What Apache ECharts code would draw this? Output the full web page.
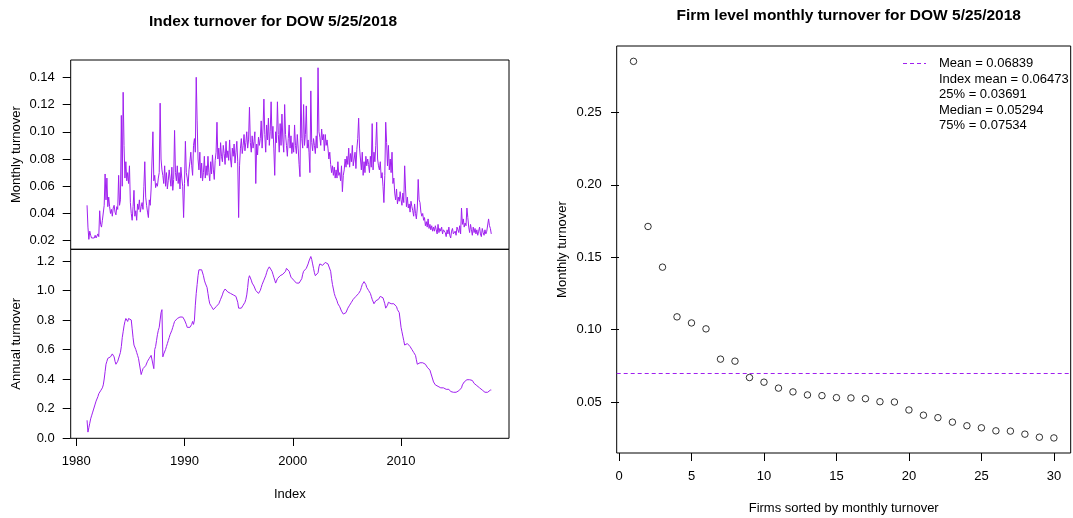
<!DOCTYPE html>
<html>
<head>
<meta charset="utf-8">
<script src="https://cdn.jsdelivr.net/npm/echarts@6/dist/echarts.min.js"></script>
<style>
  html, body { margin: 0; padding: 0; background: #fff; }
  #chart { width: 1073px; height: 518px; }
</style>
</head>
<body>
<div id="chart"></div>
<script>
// Index turnover, one value per month starting January 1981 (through May 2018)
const startYear = 1981;
const monthlyTurnover = [
  0.046, 0.030, 0.021, 0.027, 0.024, 0.022, 0.023, 0.021, 0.022, 0.024, 0.022, 0.023, // 1981
  0.025, 0.023, 0.042, 0.032, 0.030, 0.035, 0.034, 0.046, 0.069, 0.050, 0.066, 0.045, // 1982
  0.052, 0.045, 0.040, 0.043, 0.038, 0.044, 0.046, 0.041, 0.039, 0.045, 0.043, 0.068, // 1983
  0.046, 0.050, 0.112, 0.060, 0.129, 0.090, 0.066, 0.078, 0.064, 0.070, 0.062, 0.075, // 1984
  0.048, 0.040, 0.035, 0.045, 0.057, 0.038, 0.042, 0.035, 0.047, 0.043, 0.050, 0.041, // 1985
  0.045, 0.048, 0.043, 0.060, 0.078, 0.052, 0.046, 0.041, 0.037, 0.050, 0.046, 0.058, // 1986
  0.058, 0.100, 0.064, 0.068, 0.059, 0.062, 0.060, 0.066, 0.070, 0.121, 0.080, 0.072, // 1987
  0.068, 0.062, 0.075, 0.060, 0.070, 0.058, 0.064, 0.072, 0.066, 0.060, 0.074, 0.057, // 1988
  0.065, 0.101, 0.070, 0.064, 0.075, 0.062, 0.070, 0.058, 0.074, 0.066, 0.060, 0.037, // 1989
  0.062, 0.093, 0.070, 0.066, 0.060, 0.072, 0.078, 0.085, 0.075, 0.068, 0.090, 0.095, // 1990
  0.085, 0.140, 0.108, 0.080, 0.072, 0.085, 0.066, 0.077, 0.064, 0.070, 0.082, 0.066, // 1991
  0.075, 0.068, 0.082, 0.070, 0.064, 0.078, 0.069, 0.083, 0.072, 0.065, 0.079, 0.085, // 1992
  0.107, 0.080, 0.088, 0.075, 0.092, 0.082, 0.078, 0.090, 0.084, 0.076, 0.093, 0.081, // 1993
  0.086, 0.079, 0.094, 0.080, 0.074, 0.088, 0.082, 0.091, 0.077, 0.085, 0.093, 0.078, // 1994
  0.037, 0.075, 0.088, 0.095, 0.084, 0.090, 0.098, 0.086, 0.092, 0.100, 0.088, 0.094, // 1995
  0.118, 0.092, 0.085, 0.097, 0.088, 0.093, 0.100, 0.062, 0.091, 0.083, 0.096, 0.090, // 1996
  0.095, 0.108, 0.088, 0.102, 0.124, 0.098, 0.085, 0.105, 0.094, 0.110, 0.090, 0.100, // 1997
  0.122, 0.095, 0.104, 0.088, 0.068, 0.100, 0.092, 0.122, 0.098, 0.085, 0.106, 0.090, // 1998
  0.113, 0.094, 0.085, 0.120, 0.098, 0.090, 0.082, 0.095, 0.105, 0.088, 0.097, 0.084, // 1999
  0.092, 0.085, 0.105, 0.090, 0.084, 0.098, 0.088, 0.076, 0.067, 0.140, 0.095, 0.088, // 2000
  0.120, 0.090, 0.098, 0.119, 0.088, 0.094, 0.085, 0.070, 0.130, 0.092, 0.086, 0.095, // 2001
  0.090, 0.084, 0.097, 0.088, 0.147, 0.100, 0.096, 0.090, 0.102, 0.094, 0.098, 0.086, // 2002
  0.098, 0.090, 0.094, 0.088, 0.080, 0.085, 0.076, 0.070, 0.075, 0.068, 0.074, 0.066, // 2003
  0.072, 0.066, 0.078, 0.068, 0.070, 0.064, 0.075, 0.056, 0.068, 0.072, 0.080, 0.074, // 2004
  0.082, 0.076, 0.088, 0.074, 0.084, 0.078, 0.090, 0.075, 0.080, 0.085, 0.073, 0.087, // 2005
  0.095, 0.110, 0.088, 0.080, 0.072, 0.085, 0.068, 0.078, 0.070, 0.082, 0.075, 0.080, // 2006
  0.076, 0.070, 0.082, 0.074, 0.106, 0.072, 0.085, 0.078, 0.090, 0.107, 0.080, 0.075, // 2007
  0.072, 0.078, 0.066, 0.070, 0.060, 0.048, 0.068, 0.107, 0.092, 0.075, 0.090, 0.072, // 2008
  0.080, 0.070, 0.085, 0.062, 0.066, 0.055, 0.050, 0.058, 0.047, 0.052, 0.049, 0.056, // 2009
  0.050, 0.046, 0.055, 0.048, 0.075, 0.058, 0.045, 0.052, 0.044, 0.047, 0.041, 0.049, // 2010
  0.045, 0.042, 0.038, 0.047, 0.040, 0.036, 0.044, 0.065, 0.050, 0.048, 0.041, 0.038, // 2011
  0.040, 0.035, 0.037, 0.031, 0.034, 0.030, 0.036, 0.029, 0.032, 0.028, 0.031, 0.027, // 2012
  0.030, 0.027, 0.031, 0.028, 0.025, 0.032, 0.026, 0.029, 0.027, 0.030, 0.025, 0.028, // 2013
  0.029, 0.026, 0.023, 0.028, 0.025, 0.030, 0.024, 0.022, 0.027, 0.029, 0.025, 0.026, // 2014
  0.027, 0.024, 0.030, 0.028, 0.026, 0.031, 0.025, 0.044, 0.032, 0.036, 0.030, 0.033, // 2015
  0.031, 0.044, 0.037, 0.030, 0.026, 0.032, 0.028, 0.024, 0.030, 0.026, 0.029, 0.025, // 2016
  0.028, 0.024, 0.027, 0.030, 0.025, 0.023, 0.029, 0.026, 0.024, 0.028, 0.025, 0.027, // 2017
  0.026, 0.036, 0.031, 0.029, 0.025                                                   // 2018
];

// Trailing annual turnover, same monthly dates
const annualTurnover = [
  0.12, 0.04, 0.07, 0.10, 0.13, 0.15, 0.17, 0.19, 0.21, 0.23, 0.25, 0.26, // 1981
  0.28, 0.30, 0.31, 0.32, 0.33, 0.34, 0.36, 0.40, 0.45, 0.50, 0.52, 0.54, // 1982
  0.54, 0.55, 0.55, 0.56, 0.57, 0.56, 0.55, 0.52, 0.50, 0.50, 0.52, 0.52, // 1983
  0.53, 0.58, 0.62, 0.68, 0.72, 0.76, 0.79, 0.81, 0.80, 0.79, 0.81, 0.81, // 1984
  0.81, 0.80, 0.74, 0.68, 0.63, 0.62, 0.60, 0.58, 0.56, 0.54, 0.55, 0.55, // 1985
  0.43, 0.45, 0.47, 0.48, 0.48, 0.49, 0.50, 0.52, 0.53, 0.54, 0.55, 0.56, // 1986
  0.57, 0.56, 0.47, 0.60, 0.62, 0.66, 0.70, 0.73, 0.75, 0.80, 0.85, 0.87, // 1987
  0.55, 0.57, 0.58, 0.60, 0.62, 0.64, 0.66, 0.68, 0.70, 0.71, 0.73, 0.75, // 1988
  0.77, 0.79, 0.80, 0.80, 0.81, 0.80, 0.81, 0.82, 0.81, 0.82, 0.82, 0.82, // 1989
  0.80, 0.79, 0.77, 0.75, 0.74, 0.74, 0.75, 0.76, 0.77, 0.79, 0.77, 0.80, // 1990
  0.90, 0.98, 1.04, 1.10, 1.14, 1.14, 1.13, 1.14, 1.13, 1.10, 1.07, 1.05, // 1991
  1.05, 1.02, 0.98, 0.94, 0.91, 0.90, 0.89, 0.88, 0.87, 0.87, 0.88, 0.89, // 1992
  0.89, 0.90, 0.91, 0.92, 0.94, 0.95, 0.97, 0.99, 1.00, 1.01, 1.01, 1.00, // 1993
  0.99, 0.99, 0.98, 0.98, 0.98, 0.97, 0.97, 0.96, 0.96, 0.96, 0.95, 0.92, // 1994
  0.88, 0.87, 0.87, 0.88, 0.89, 0.90, 0.91, 0.92, 0.94, 0.97, 1.02, 1.08, // 1995
  1.10, 1.09, 1.07, 1.05, 1.04, 1.03, 1.02, 1.00, 0.99, 0.99, 0.98, 0.985, // 1996
  1.00, 1.02, 1.04, 1.05, 1.07, 1.08, 1.10, 1.12, 1.14, 1.15, 1.16, 1.16, // 1997
  1.15, 1.13, 1.11, 1.09, 1.07, 1.05, 1.06, 1.08, 1.09, 1.09, 1.10, 1.10, // 1998
  1.10, 1.11, 1.11, 1.12, 1.13, 1.15, 1.15, 1.14, 1.13, 1.11, 1.09, 1.08, // 1999
  1.08, 1.07, 1.07, 1.06, 1.05, 1.05, 1.06, 1.05, 1.04, 1.06, 1.08, 1.11, // 2000
  1.13, 1.14, 1.14, 1.15, 1.16, 1.18, 1.20, 1.21, 1.23, 1.21, 1.18, 1.15, // 2001
  1.12, 1.10, 1.09, 1.09, 1.12, 1.16, 1.18, 1.19, 1.18, 1.17, 1.18, 1.18, // 2002
  1.19, 1.18, 1.18, 1.18, 1.17, 1.18, 1.13, 1.08, 1.04, 1.01, 0.98, 0.96, // 2003
  0.95, 0.93, 0.91, 0.90, 0.89, 0.88, 0.86, 0.85, 0.84, 0.83, 0.84, 0.85, // 2004
  0.86, 0.88, 0.89, 0.90, 0.91, 0.92, 0.93, 0.94, 0.94, 0.95, 0.96, 0.97, // 2005
  0.97, 0.98, 0.99, 1.00, 1.02, 1.04, 1.05, 1.06, 1.05, 1.04, 1.02, 1.01, // 2006
  1.00, 1.00, 0.98, 0.96, 0.94, 0.93, 0.91, 0.92, 0.93, 0.94, 0.93, 0.94, // 2007
  0.95, 0.96, 0.97, 0.96, 0.95, 0.93, 0.91, 0.88, 0.89, 0.90, 0.92, 0.91, // 2008
  0.92, 0.91, 0.92, 0.90, 0.91, 0.91, 0.90, 0.89, 0.87, 0.86, 0.85, 0.80, // 2009
  0.75, 0.72, 0.69, 0.66, 0.63, 0.62, 0.63, 0.64, 0.64, 0.63, 0.62, 0.61, // 2010
  0.60, 0.59, 0.58, 0.57, 0.56, 0.53, 0.50, 0.49, 0.50, 0.51, 0.52, 0.52, // 2011
  0.51, 0.51, 0.50, 0.50, 0.49, 0.48, 0.47, 0.47, 0.46, 0.44, 0.42, 0.40, // 2012
  0.38, 0.37, 0.36, 0.36, 0.355, 0.35, 0.35, 0.345, 0.34, 0.34, 0.34, 0.34, // 2013
  0.335, 0.335, 0.33, 0.33, 0.335, 0.33, 0.32, 0.315, 0.31, 0.31, 0.31, 0.31, // 2014
  0.31, 0.31, 0.31, 0.315, 0.32, 0.325, 0.33, 0.34, 0.36, 0.37, 0.38, 0.385, // 2015
  0.39, 0.395, 0.40, 0.40, 0.395, 0.40, 0.40, 0.39, 0.38, 0.37, 0.365, 0.36, // 2016
  0.355, 0.35, 0.345, 0.34, 0.335, 0.33, 0.325, 0.32, 0.315, 0.31, 0.305, 0.305, // 2017
  0.31, 0.315, 0.32, 0.325, 0.325                                            // 2018
];

// Firm level monthly turnover, firms sorted from highest to lowest
const firmRank = [1, 2, 3, 4, 5, 6, 7, 8, 9, 10, 11, 12, 13, 14, 15,
                  16, 17, 18, 19, 20, 21, 22, 23, 24, 25, 26, 27, 28, 29, 30];
const firmTurnover = [0.2852, 0.1712, 0.1431, 0.1088, 0.1046, 0.1005, 0.0796, 0.0782,
                      0.0669, 0.0637, 0.0596, 0.0570, 0.0549, 0.0544, 0.0530, 0.0528,
                      0.0523, 0.0502, 0.0500, 0.0445, 0.0409, 0.0392, 0.0361, 0.0336,
                      0.0322, 0.0301, 0.0299, 0.0278, 0.0257, 0.0252];

// Summary statistics shown in the legend (first one is drawn as the dashed line)
const statNames = ['Mean', 'Index mean', '25%', 'Median', '75%'];
const statValues = [0.06839, 0.06473, 0.03691, 0.05294, 0.07534];

// Tick positions
const yearTicks = [1980, 1990, 2000, 2010];
const monthlyTicks = [0.02, 0.04, 0.06, 0.08, 0.10, 0.12, 0.14];
const annualTicks = [0.0, 0.2, 0.4, 0.6, 0.8, 1.0, 1.2];
const firmYTicks = [0.05, 0.10, 0.15, 0.20, 0.25];
const firmXTicks = [0, 5, 10, 15, 20, 25, 30];

const PURPLE = '#A020F0';
const FONT = "'Liberation Sans', Arial, Helvetica, sans-serif";

const dateOf = i => startYear + i / 12;
const monthlyPoints = monthlyTurnover.map((v, i) => [dateOf(i), v]);
const annualPoints = annualTurnover.map((v, i) => [dateOf(i), v]);
const firmPoints = firmRank.map((r, i) => [r, firmTurnover[i]]);

const labelStyle = { color: '#000', fontSize: 13, fontFamily: FONT };
const tickStyle = { lineStyle: { color: '#000', width: 1 }, length: 8 };

function valueAxis(extra) {
  return Object.assign({
    type: 'value',
    scale: true,
    splitLine: { show: false },
    axisLine: { show: false },
    nameLocation: 'middle',
    nameTextStyle: { color: '#000', fontSize: 13, fontFamily: FONT, verticalAlign: 'middle' }
  }, extra);
}

const chart = echarts.init(document.getElementById('chart'), null, { renderer: 'canvas' });

// Legend: dashed sample for the mean line plus the summary statistics
const legendGraphics = [{
  type: 'line',
  shape: { x1: 903, y1: 63.5, x2: 926, y2: 63.5 },
  style: { stroke: PURPLE, lineWidth: 1, lineDash: [4, 3], opacity: 1 }
}];
statNames.forEach((name, i) => {
  legendGraphics.push({
    type: 'text',
    x: 939,
    y: 63.5 + i * 15.6,
    style: {
      text: name + ' = ' + statValues[i].toFixed(5),
      fill: '#000',
      font: '13px ' + FONT,
      textAlign: 'left',
      textVerticalAlign: 'middle'
    }
  });
});

chart.setOption({
  animation: false,
  backgroundColor: '#fff',
  title: [
    {
      text: 'Index turnover for DOW 5/25/2018',
      left: 268, top: 9, textAlign: 'center',
      textStyle: { fontSize: 15.5, fontWeight: 'bold', color: '#000', fontFamily: FONT }
    },
    {
      text: 'Firm level monthly turnover for DOW 5/25/2018',
      left: 843.7, top: 3, textAlign: 'center',
      textStyle: { fontSize: 15.5, fontWeight: 'bold', color: '#000', fontFamily: FONT }
    }
  ],
  grid: [
    { left: 70.7, top: 60, width: 438.3, height: 189.3, show: true, borderColor: '#000', borderWidth: 1, backgroundColor: 'transparent', outerBoundsMode: 'none' },
    { left: 70.7, top: 249.3, width: 438.3, height: 189, show: true, borderColor: '#000', borderWidth: 1, backgroundColor: 'transparent', outerBoundsMode: 'none' },
    { left: 616.7, top: 46, width: 454, height: 407, show: true, borderColor: '#000', borderWidth: 1, backgroundColor: 'transparent', outerBoundsMode: 'none' }
  ],
  xAxis: [
    valueAxis({ gridIndex: 0, min: 1979.49, max: 2019.97, axisTick: { show: false }, axisLabel: { show: false } }),
    valueAxis({
      gridIndex: 1, min: 1979.49, max: 2019.97,
      axisTick: Object.assign({ customValues: yearTicks }, tickStyle),
      axisLabel: Object.assign({ customValues: yearTicks, margin: 17, formatter: v => String(v) }, labelStyle),
      name: 'Index', nameGap: 56
    }),
    valueAxis({
      gridIndex: 2, min: -0.16, max: 31.16,
      axisTick: Object.assign({ customValues: firmXTicks }, tickStyle),
      axisLabel: Object.assign({ customValues: firmXTicks, margin: 17, formatter: v => String(v) }, labelStyle),
      name: 'Firms sorted by monthly turnover', nameGap: 55
    })
  ],
  yAxis: [
    valueAxis({
      gridIndex: 0, min: 0.0137, max: 0.1527,
      axisTick: Object.assign({ customValues: monthlyTicks }, tickStyle),
      axisLabel: Object.assign({ customValues: monthlyTicks, margin: 16, formatter: v => v.toFixed(2) }, labelStyle),
      name: 'Monthly turnover', nameGap: 54, nameRotate: 90
    }),
    valueAxis({
      gridIndex: 1, min: -0.002, max: 1.279,
      axisTick: Object.assign({ customValues: annualTicks }, tickStyle),
      axisLabel: Object.assign({ customValues: annualTicks, margin: 16, formatter: v => v.toFixed(1) }, labelStyle),
      name: 'Annual turnover', nameGap: 54, nameRotate: 90
    }),
    valueAxis({
      gridIndex: 2, min: 0.0148, max: 0.2958,
      axisTick: Object.assign({ customValues: firmYTicks }, tickStyle),
      axisLabel: Object.assign({ customValues: firmYTicks, margin: 15, formatter: v => v.toFixed(2) }, labelStyle),
      name: 'Monthly turnover', nameGap: 54, nameRotate: 90
    })
  ],
  series: [
    {
      type: 'line', xAxisIndex: 0, yAxisIndex: 0,
      data: monthlyPoints, showSymbol: false, symbol: 'none',
      lineStyle: { color: PURPLE, width: 1 }
    },
    {
      type: 'line', xAxisIndex: 1, yAxisIndex: 1,
      data: annualPoints, showSymbol: false, symbol: 'none',
      lineStyle: { color: PURPLE, width: 1 }
    },
    {
      type: 'scatter', xAxisIndex: 2, yAxisIndex: 2,
      data: firmPoints, symbol: 'circle', symbolSize: 6.5,
      itemStyle: { color: 'rgba(0,0,0,0)', borderColor: '#000', borderWidth: 1 },
      markLine: {
        silent: true, symbol: ['none', 'none'],
        label: { show: false },
        itemStyle: { color: PURPLE },
        lineStyle: { color: PURPLE, width: 1, type: [4, 3], opacity: 1 },
        emphasis: { disabled: true },
        data: [{ yAxis: statValues[0], lineStyle: { color: PURPLE } }]
      }
    }
  ],
  graphic: legendGraphics
});
</script>
</body>
</html>
